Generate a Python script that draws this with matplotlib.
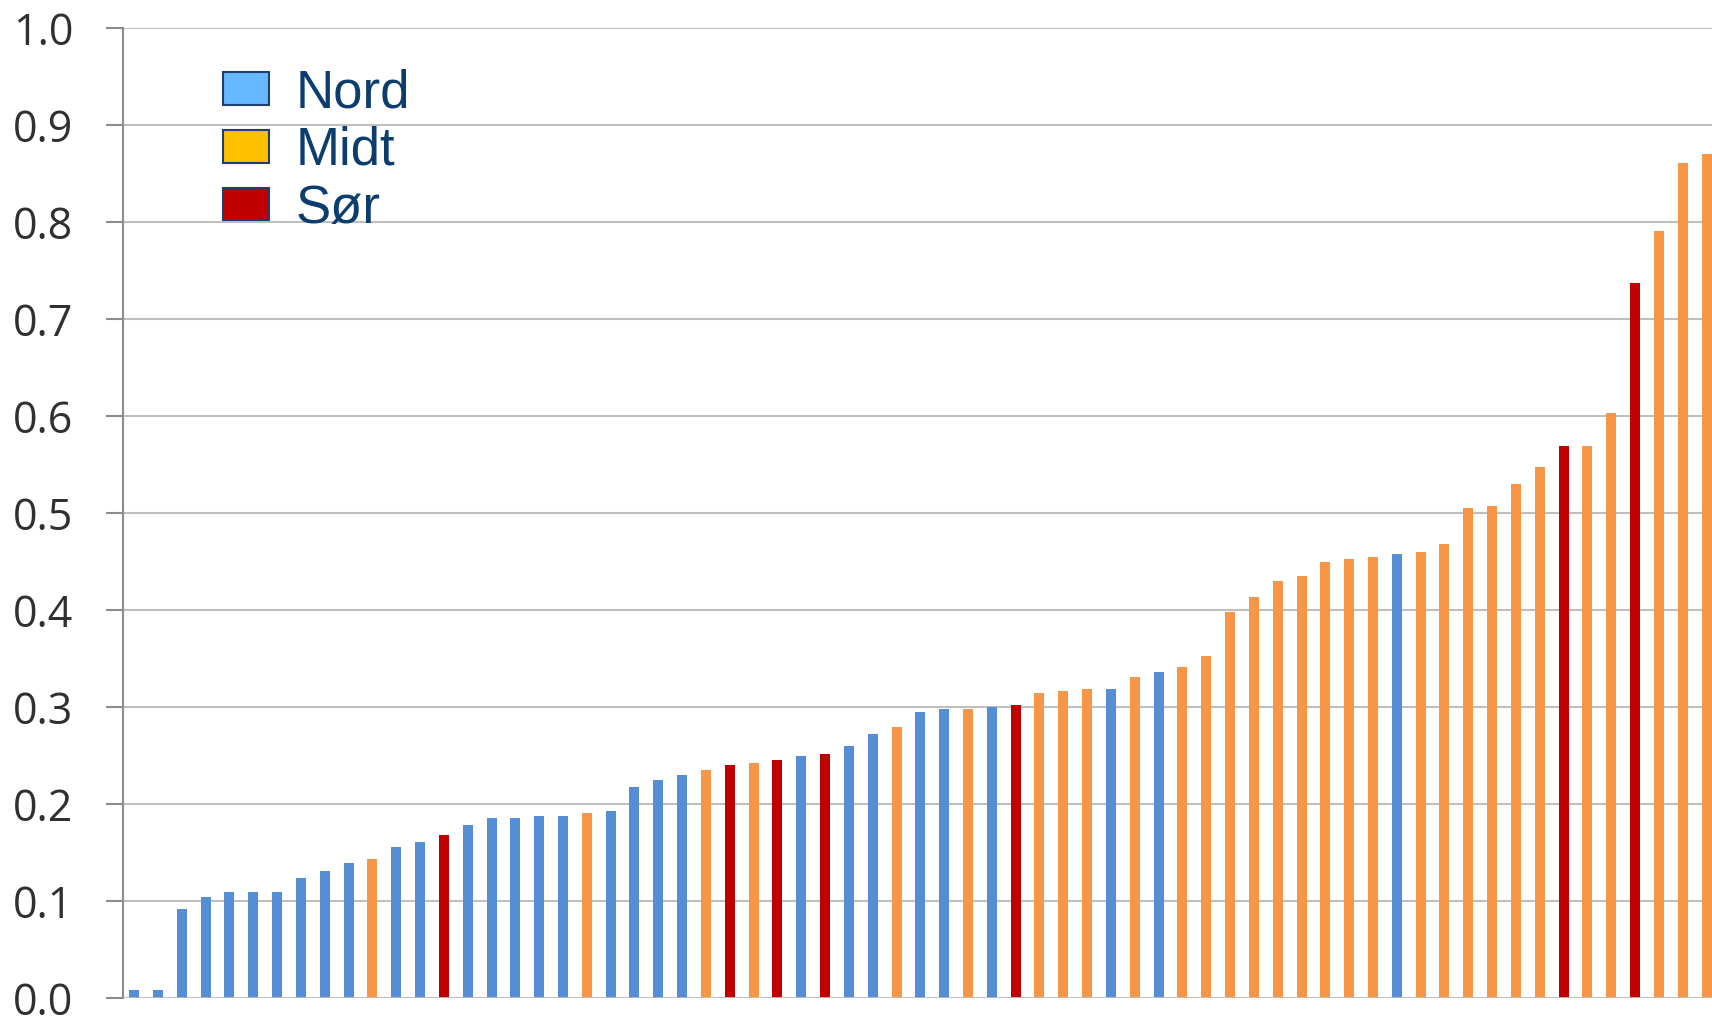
import matplotlib
matplotlib.use("Agg")
import matplotlib.pyplot as plt
from matplotlib.patches import Patch

values = [0.008, 0.008, 0.092, 0.104, 0.109, 0.109, 0.109, 0.124, 0.131, 0.139,
          0.143, 0.156, 0.161, 0.168, 0.178, 0.186, 0.186, 0.188, 0.188, 0.191,
          0.193, 0.218, 0.225, 0.230, 0.235, 0.240, 0.242, 0.245, 0.250, 0.252,
          0.260, 0.272, 0.279, 0.295, 0.298, 0.298, 0.300, 0.302, 0.314, 0.317,
          0.319, 0.319, 0.331, 0.336, 0.341, 0.353, 0.398, 0.413, 0.430, 0.435,
          0.450, 0.453, 0.455, 0.458, 0.460, 0.468, 0.505, 0.507, 0.530, 0.547,
          0.569, 0.569, 0.603, 0.737, 0.791, 0.861, 0.870]
regions = ["N", "N", "N", "N", "N", "N", "N", "N", "N", "N",
           "M", "N", "N", "S", "N", "N", "N", "N", "N", "M",
           "N", "N", "N", "N", "M", "S", "M", "S", "N", "S",
           "N", "N", "M", "N", "N", "M", "N", "S", "M", "M",
           "M", "N", "M", "N", "M", "M", "M", "M", "M", "M",
           "M", "M", "M", "N", "M", "M", "M", "M", "M", "M",
           "S", "M", "M", "S", "M", "M", "M"]
legend_labels = ["Nord", "Midt", "Sør"]
yticks = [0.0, 0.1, 0.2, 0.3, 0.4, 0.5, 0.6, 0.7, 0.8, 0.9, 1.0]

bar_colors = {"N": "#558ED5", "M": "#F79646", "S": "#C00000"}
legend_colors = ["#66B8FF", "#FFC000", "#C00000"]

fig = plt.figure(figsize=(17.12, 10.17), dpi=100)
ax = fig.add_axes([123 / 1712, 1 - 998 / 1017, 1 - 123 / 1712, (998 - 28) / 1017])

x = list(range(len(values)))
ax.bar(x, values, width=0.42, color=[bar_colors[r] for r in regions], zorder=3)

ax.set_xlim(-0.47, 66.23)
ax.set_ylim(0, 1.0)
ax.set_yticks(yticks)
ax.set_yticklabels([f"{v:.1f}" for v in yticks], fontsize=31, color="#303030",
                   family="Open Sans")
ax.set_xticks([])
ax.tick_params(axis="y", length=12, width=1.5, color="#8C8C8C", pad=24)
ax.grid(axis="y", color="#BFBFBF", linewidth=1.5, zorder=0)
for s in ["top", "right", "bottom"]:
    ax.spines[s].set_visible(False)
ax.spines["left"].set_color("#8C8C8C")
ax.spines["left"].set_linewidth(1.5)
ax.axhline(0, color="#BFBFBF", linewidth=2, zorder=4)

handles = [Patch(facecolor=c, edgecolor="#1F3F6F", linewidth=1.5) for c in legend_colors]
leg = fig.legend(handles, legend_labels, loc="upper left",
                 bbox_to_anchor=(223 / 1712, 1 - 68 / 1017),
                 frameon=False, prop={"family": "Liberation Sans", "size": 38},
                 handlelength=0.87, handleheight=0.57, handletextpad=0.5,
                 labelspacing=0.15, borderpad=0, borderaxespad=0)
for t in leg.get_texts():
    t.set_color("#0B3D6E")

fig.savefig("out.png", dpi=100)
